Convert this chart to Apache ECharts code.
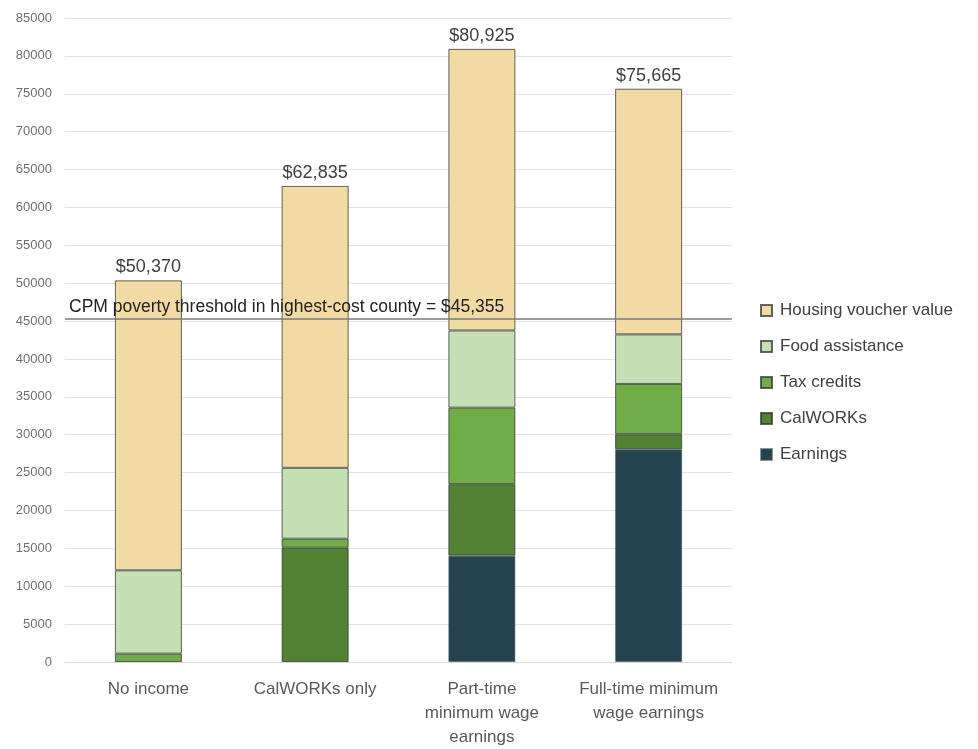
<!DOCTYPE html>
<html>
<head>
<meta charset="utf-8">
<script src="https://cdn.jsdelivr.net/npm/echarts@6/dist/echarts.min.js"></script>
<style>
  html, body { margin: 0; padding: 0; background: #ffffff; }
  #chart { width: 978px; height: 749px; }
</style>
</head>
<body>
<div id="chart"></div>
<script>
// Scenario categories along the x axis
const categories = [
  'No income',
  'CalWORKs only',
  'Part-time\nminimum wage\nearnings',
  'Full-time minimum\nwage earnings'
];

// Annual resource components (dollars), stacked bottom to top
const earnings = [0, 0, 14040, 28080];
const calworks = [0, 15080, 9430, 1980];
const taxCredits = [1100, 1190, 10100, 6640];
const foodAssistance = [11000, 9360, 10190, 6540];
const housingVoucher = [38270, 37205, 37165, 32425];

// Poverty threshold reference line
const povertyThreshold = 45355;
const povertyLabel = 'CPM poverty threshold in highest-cost county = $45,355';

const FONT = 'Liberation Sans';
const stacks = [earnings, calworks, taxCredits, foodAssistance, housingVoucher];

function stackTotal(i) {
  return stacks.reduce((s, arr) => s + arr[i], 0);
}
function money(v) {
  return '$' + v.toLocaleString('en-US');
}
// empty segments are left out so no zero-height outline is drawn
function segs(arr) {
  return arr.map(v => (v === 0 ? '-' : v));
}

const border = { borderColor: 'rgba(50,50,50,0.75)', borderWidth: 1 };

function barSeries(name, data, color, extra) {
  return Object.assign({
    name: name,
    type: 'bar',
    stack: 'total',
    data: segs(data),
    barWidth: 67,
    itemStyle: Object.assign({ color: color }, border),
    emphasis: { disabled: true }
  }, extra || {});
}

const chart = echarts.init(document.getElementById('chart'), null, { renderer: 'canvas' });

chart.setOption({
  animation: false,
  backgroundColor: '#ffffff',
  textStyle: { fontFamily: FONT },
  grid: { left: 65, right: 246, top: 18, bottom: 71, containLabel: false },
  legend: {
    orient: 'vertical',
    left: 755,
    top: 297,
    itemWidth: 11,
    itemHeight: 11,
    itemGap: 19,
    icon: 'rect',
    textStyle: { fontFamily: FONT, fontSize: 17, color: '#404040', padding: [0, 0, 0, 3] },
    data: ['Housing voucher value', 'Food assistance', 'Tax credits', 'CalWORKs', 'Earnings']
  },
  xAxis: {
    type: 'category',
    data: categories,
    axisLine: { show: true, lineStyle: { color: '#d9d9d9', width: 1 } },
    axisTick: { show: false },
    axisLabel: {
      interval: 0,
      margin: 15,
      fontFamily: FONT,
      fontSize: 17,
      lineHeight: 24,
      color: '#595959',
      align: 'center'
    }
  },
  yAxis: {
    type: 'value',
    min: 0,
    max: 85000,
    interval: 5000,
    axisLine: { show: false },
    axisTick: { show: false },
    axisLabel: {
      fontFamily: FONT,
      fontSize: 13,
      color: '#707070',
      margin: 13,
      formatter: v => String(v)
    },
    splitLine: { lineStyle: { color: '#e3e3e3', width: 1 } }
  },
  series: [
    barSeries('Earnings', earnings, '#25434f', { itemStyle: { color: '#25434f', borderColor: 'rgba(60,80,90,0.6)', borderWidth: 1 } }),
    barSeries('CalWORKs', calworks, '#548235'),
    barSeries('Tax credits', taxCredits, '#70ad47'),
    barSeries('Food assistance', foodAssistance, '#c5e0b4'),
    barSeries('Housing voucher value', housingVoucher, '#f1dba3', {
      label: {
        show: true,
        position: 'top',
        distance: 4,
        fontFamily: FONT,
        fontSize: 18,
        color: '#404040',
        formatter: p => money(stackTotal(p.dataIndex))
      },
      markLine: {
        silent: true,
        symbol: ['none', 'none'],
        z: 10,
        lineStyle: { color: '#7a7a7a', width: 1.5, type: 'solid' },
        label: {
          show: true,
          position: 'insideStartTop',
          distance: [4, 2],
          fontFamily: FONT,
          fontSize: 17.5,
          color: '#222222',
          formatter: povertyLabel
        },
        data: [{ yAxis: povertyThreshold }]
      }
    })
  ]
});
</script>
</body>
</html>
